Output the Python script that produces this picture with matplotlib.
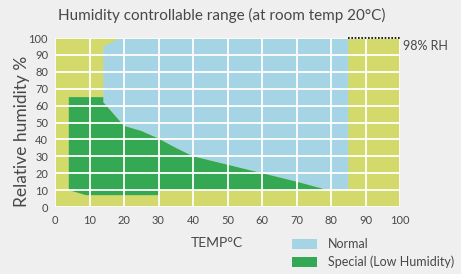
import matplotlib
matplotlib.use("Agg")
import matplotlib.pyplot as plt
from matplotlib.patches import Polygon, Patch

# chart data
title = "Humidity controllable range (at room temp 20°C)"
x_ticks = [0, 10, 20, 30, 40, 50, 60, 70, 80, 90, 100]
y_ticks = [0, 10, 20, 30, 40, 50, 60, 70, 80, 90, 100]

normal_temp = [14, 14, 19, 85, 85, 79, 70, 60, 50, 40, 35, 30, 25, 20, 17]
normal_rh = [62, 95, 100, 100, 10, 10, 15, 20, 25, 30, 35, 40.5, 45, 48, 55]

special_temp = [4, 14, 14, 17, 20, 25, 30, 35, 40, 50, 60, 70, 79, 30, 30, 9, 4]
special_rh = [65, 65, 62, 55, 48, 45, 40.5, 35, 30, 25, 20, 15, 10, 10, 7, 7, 10]

rh_limit_temp = [85, 100]
rh_limit_val = [100, 100]

bg = "#efefef"
yellow = "#d4d96c"
blue = "#a5d5e4"
green = "#34a853"
txt = "#484848"

plt.rcParams['font.family'] = ['Lato', 'DejaVu Sans']

fig = plt.figure(figsize=(4.61, 2.74), dpi=100, facecolor=bg)
ax = fig.add_axes([55 / 461, 1 - 207 / 274, 345 / 461, 169 / 274])
ax.set_facecolor(yellow)

ax.add_patch(Polygon(list(zip(normal_temp, normal_rh)), closed=True,
                     facecolor=blue, edgecolor='none', zorder=1))
ax.add_patch(Polygon(list(zip(special_temp, special_rh)), closed=True,
                     facecolor=green, edgecolor='none', zorder=1))

ax.set_xlim(0, 100)
ax.set_ylim(0, 100)
ax.set_xticks(x_ticks)
ax.set_yticks(y_ticks)
ax.grid(True, color='white', linewidth=1.3, zorder=2)
ax.set_axisbelow(False)
for s in ax.spines.values():
    s.set_visible(False)
ax.tick_params(length=0, colors=txt, labelsize=8)
ax.tick_params(axis='x', pad=6)
ax.tick_params(axis='y', pad=5)

# 98% RH dotted limit
ax.plot(rh_limit_temp, rh_limit_val, color='black', linestyle=(0, (1, 1)),
        linewidth=1.2, zorder=3, clip_on=False)
ax.text(101, 99, "98% RH", color=txt, fontsize=9, va='top', ha='left')

fig.text(222 / 461, 1 - 15 / 274, title, color=txt, fontsize=11,
         ha='center', va='center')
fig.text(22 / 461, 1 - 131 / 274, "Relative humidity %", color=txt,
         fontsize=12.5, rotation=90, ha='center', va='center')
fig.text(217 / 461, 1 - 243 / 274, "TEMP°C", color=txt, fontsize=10,
         ha='center', va='center')

handles = [Patch(facecolor=blue, edgecolor='none', label='Normal'),
           Patch(facecolor=green, edgecolor='none', label='Special (Low Humidity)')]
fig.legend(handles=handles, loc='upper left', bbox_to_anchor=(287 / 461, 1 - 233 / 274),
           frameon=False, fontsize=9, labelcolor=txt, handlelength=2.0,
           handleheight=0.9, labelspacing=0.45, handletextpad=0.9, borderaxespad=0)

fig.savefig("out.png", dpi=100, facecolor=bg)
